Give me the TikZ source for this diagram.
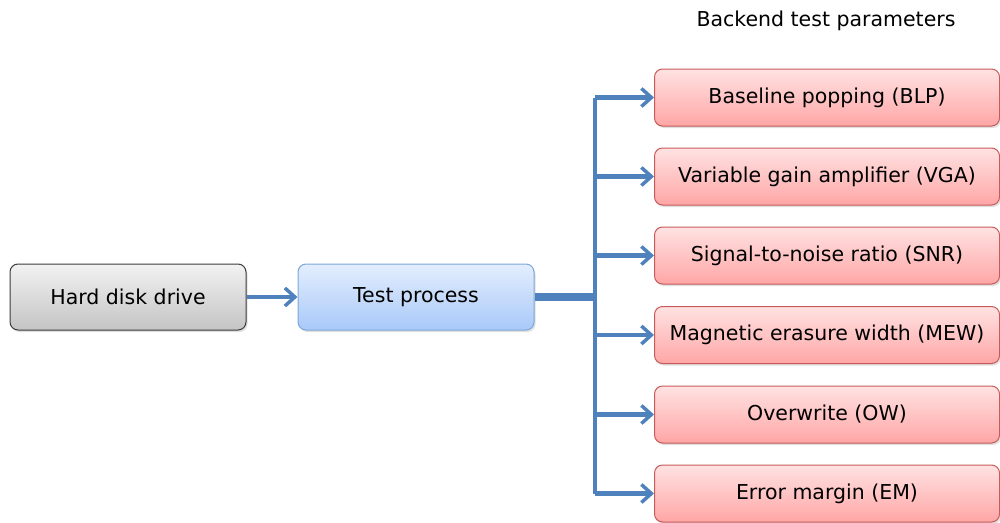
\documentclass[tikz,border=0pt]{standalone}
\usepackage{fontspec}
\setmainfont{DejaVu Sans}
\usetikzlibrary{arrows.meta,shadows}
\definecolor{flow}{HTML}{4F81BD}
\definecolor{grayedge}{HTML}{3C3C3C}
\definecolor{grayhi}{HTML}{F2F2F2}
\definecolor{graylo}{HTML}{C4C4C4}
\definecolor{blueedge}{HTML}{7EA6DA}
\definecolor{bluehi}{HTML}{E3EEFD}
\definecolor{bluelo}{HTML}{A9C9F9}
\definecolor{rededge}{HTML}{C85A5A}
\definecolor{redhi}{HTML}{FFE2E2}
\definecolor{redlo}{HTML}{FFA6A6}
\tikzset{
  box/.style={rounded corners=8pt, line width=1pt, inner sep=0pt,
    font=\fontsize{20.5}{24}\selectfont,
    drop shadow={shadow xshift=1.5pt, shadow yshift=-2pt, opacity=0.25}},
  graybox/.style={box, draw=grayedge, top color=grayhi, bottom color=graylo,
    minimum width=236pt, minimum height=66pt},
  bluebox/.style={box, draw=blueedge, top color=bluehi, bottom color=bluelo,
    minimum width=236pt, minimum height=66pt},
  redbox/.style={box, draw=rededge, top color=redhi, bottom color=redlo,
    minimum width=345pt, minimum height=57pt},
  feed/.style={draw=flow, line width=4.5pt,
    -{Straight Barb[length=10pt, width=18pt, line width=3.5pt]}},
}
\begin{document}
\begin{tikzpicture}[x=1pt, y=-1pt]
  \useasboundingbox (0,0) rectangle (1000,522);
  \clip (0,0) rectangle (1000,522);

  \node[font=\fontsize{20.5}{24}\selectfont] (title) at (826,21) {Backend test parameters};

  \node[graybox] (hdd) at (128,297) {Hard disk drive};
  \node[bluebox] (tp) at (416,297) {Test process};

  \node[redbox] (blp) at (827,97.5)  {Baseline popping (BLP)};
  \node[redbox] (vga) at (827,176.5) {Variable gain amplifier (VGA)};
  \node[redbox] (snr) at (827,255.5) {Signal-to-noise ratio (SNR)};
  \node[redbox] (mew) at (827,335)   {Magnetic erasure width (MEW)};
  \node[redbox] (ow)  at (827,414.5) {Overwrite (OW)};
  \node[redbox] (em)  at (827,493.5) {Error margin (EM)};

  \draw[feed] (hdd.east) -- (tp.west);

  % trunk from the test process into the distribution bus
  \coordinate (hub) at (595,297);
  \coordinate (bustop) at (595,97.5);
  \coordinate (busbot) at (595,493.5);
  \draw[flow, line width=8pt] (tp.east) -- (hub);
  \draw[flow, line width=4.5pt] (bustop) -- (busbot);

  \foreach \n in {blp,vga,snr,mew,ow,em}
    \draw[feed] (bustop |- \n.west) -- (\n.west);
\end{tikzpicture}
\end{document}
